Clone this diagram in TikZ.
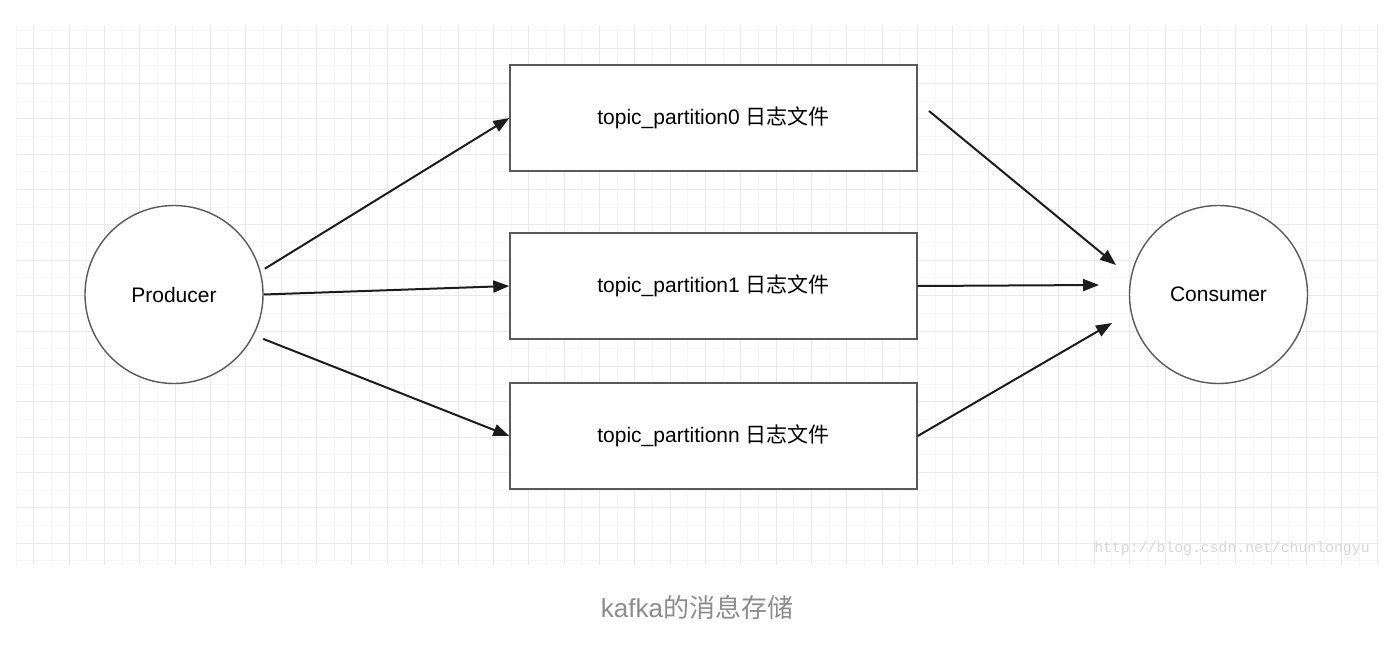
\documentclass[tikz,border=0pt]{standalone}
\usepackage{fontspec}
\setmainfont{Liberation Sans}
\setmonofont{Liberation Mono}
\newfontfamily\cjk{Noto Sans CJK SC}
\usetikzlibrary{arrows.meta}
\definecolor{gridmajor}{HTML}{E9E9E9}
\definecolor{gridminor}{HTML}{F6F6F6}
\definecolor{shapeline}{HTML}{5A5A5A}
\definecolor{arrowcol}{HTML}{1C1C1C}
\definecolor{captioncol}{HTML}{8C8C8C}
\definecolor{markcol}{HTML}{D6D6D6}
\tikzset{
  partbox/.style={draw=shapeline, line width=1.4pt, fill=white, minimum width=407pt, minimum height=106pt, inner sep=0pt, font=\fontsize{21}{25}\selectfont},
  roundnode/.style={circle, draw=shapeline, line width=1.4pt, fill=white, minimum size=178pt, inner sep=0pt, font=\fontsize{21}{25}\selectfont},
  flow/.style={draw=arrowcol, line width=2pt, -{Triangle[length=16pt,width=12pt]}},
}
\begin{document}
\begin{tikzpicture}[x=1pt,y=-1pt]
\useasboundingbox (0,0) rectangle (1394,650);
% grid
\begin{scope}
\clip (16,26) rectangle (1379,565);
\foreach \k in {-1,...,38} {
  \draw[gridminor, line width=1pt] ({round(33.3+35.35*\k+17.67)+0.5},26) -- ({round(33.3+35.35*\k+17.67)+0.5},565);
}
\foreach \k in {-1,...,15} {
  \draw[gridminor, line width=1pt] (16,{round(47.7+35.35*\k+17.67)+0.5}) -- (1379,{round(47.7+35.35*\k+17.67)+0.5});
}
\foreach \k in {0,...,38} {
  \draw[gridmajor, line width=1.5pt] ({round(33.3+35.35*\k)+0.5},26) -- ({round(33.3+35.35*\k)+0.5},565);
}
\foreach \k in {0,...,14} {
  \draw[gridmajor, line width=1.5pt] (16,{round(47.7+35.35*\k)+0.5}) -- (1379,{round(47.7+35.35*\k)+0.5});
}
\end{scope}
% nodes
\node[roundnode] (prod) at (174,294.5) {Producer};
\node[roundnode] (cons) at (1218.5,294.5) {Consumer};
\node[partbox] (box0) at (713.5,118) {topic\_partition0 {\cjk 日志文件}};
\node[partbox] (box1) at (713.5,286) {topic\_partition1 {\cjk 日志文件}};
\node[partbox] (boxn) at (713.5,436) {topic\_partitionn {\cjk 日志文件}};
% free ends
\coordinate (s0) at (929,111);
\coordinate (e0) at (1116,265);
\coordinate (e1) at (1099,285);
\coordinate (en) at (1112,323);
% connectors
\draw[flow, shorten <=5pt] (prod.15) -- (box0.west);
\draw[flow] (prod.0) -- (box1.west);
\draw[flow, shorten <=10pt] (prod.-27) -- (boxn.west);
\draw[flow] (s0) -- (e0);
\draw[flow] (box1.east) -- (e1);
\draw[flow] (boxn.east) -- (en);
% watermark
\node[text=markcol, font=\ttfamily\fontsize{14.8}{16}\selectfont, inner sep=0pt] (mark) at (1232,549) {http://blog.csdn.net/chunlongyu};
% caption
\node[text=captioncol, font=\fontsize{26}{30}\selectfont, inner sep=0pt] (cap) at (697,607) {kafka{\cjk 的消息存储}};
\end{tikzpicture}
\end{document}
